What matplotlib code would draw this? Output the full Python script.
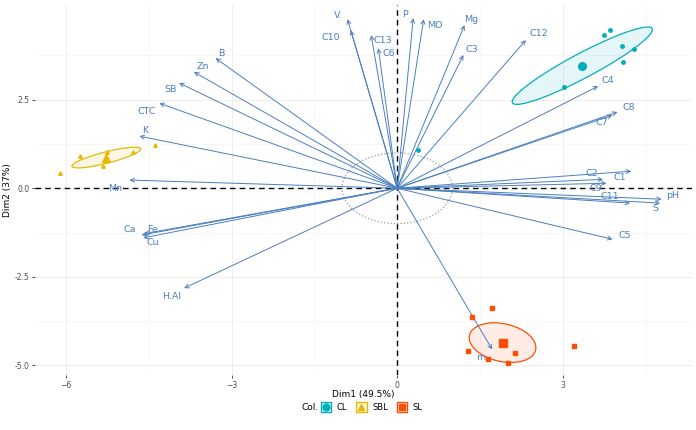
import numpy as np
import matplotlib
matplotlib.use("Agg")
import matplotlib.pyplot as plt
from matplotlib.patches import Ellipse, Rectangle, Circle
from matplotlib.lines import Line2D
from matplotlib.legend_handler import HandlerBase

# Variable arrows (PCA loadings, scaled)
var_names = ["V.", "C10", "C13", "C6", "P", "MO", "Mg", "C3", "C12",
             "B", "Zn", "SB", "CTC", "K", "Mn", "Ca", "Fe", "Cu", "H.Al",
             "C4", "C8", "C7", "C2", "C1", "C9", "C11", "S", "pH", "C5", "m"]
var_x = [-0.90, -0.84, -0.47, -0.34, 0.29, 0.48, 1.22, 1.20, 2.33,
         -3.29, -3.68, -3.95, -4.31, -4.67, -4.85, -4.63, -4.58, -4.60, -3.86,
         3.64, 3.99, 3.90, 3.73, 4.24, 3.79, 4.22, 4.76, 4.79, 3.90, 1.72]
var_y = [4.77, 4.46, 4.32, 3.95, 4.80, 4.77, 4.60, 3.76, 4.18,
         3.67, 3.28, 2.97, 2.40, 1.47, 0.23, -1.32, -1.28, -1.40, -2.82,
         2.88, 2.15, 2.06, 0.25, 0.48, 0.14, -0.42, -0.42, -0.31, -1.44, -4.55]
# label offsets from arrow tip (pixels)
lab_off = [(-9, 4), (-20, -7), (12, -5), (10, -5), (-8, 4), (11, -6), (7, 6), (8, 5), (13, 7),
           (6, 5), (9, 5), (-9, -7), (-12, -8), (6, 6), (-14, -8), (-12, 6), (8, 4), (10, -5), (-12, -8),
           (10, 6), (11, 5), (-11, -7), (-11, 6), (-11, -6), (-11, -5), (-20, 7), (-5, -5), (11, 4), (12, 4), (-11, -8)]

# Individuals by group
groups = ["CL", "SBL", "SL"]
cl_x = [3.75, 3.86, 4.08, 4.29, 4.09, 3.02, 0.38]
cl_y = [4.32, 4.46, 4.01, 3.93, 3.56, 2.85, 1.07]
sbl_x = [-6.10, -5.75, -5.26, -5.33, -4.38, -4.79]
sbl_y = [0.42, 0.90, 1.02, 0.62, 1.21, 1.02]
sl_x = [1.71, 1.35, 1.29, 1.65, 2.14, 2.01, 3.21]
sl_y = [-3.39, -3.62, -4.60, -4.83, -4.66, -4.94, -4.46]

grp_x = [cl_x, sbl_x, sl_x]
grp_y = [cl_y, sbl_y, sl_y]
grp_col = ["#00AFBB", "#E7B800", "#FC4E07"]
grp_mk = ["o", "^", "s"]

arrow_col = "#4A7FBF"


class BoxMarkerHandler(HandlerBase):
    """ggplot-like key: square box with coloured border and the marker inside."""
    def create_artists(self, legend, orig_handle, xdescent, ydescent, width, height, fontsize, trans):
        col = orig_handle.get_color()
        side = height
        x0 = -xdescent + (width - side) / 2
        y0 = -ydescent
        box = Rectangle((x0, y0), side, side, fc=matplotlib.colors.to_rgba(col, 0.1),
                        ec=col, lw=1.0, transform=trans)
        m = Line2D([x0 + side / 2], [y0 + side / 2], ls="none", marker=orig_handle.get_marker(),
                   ms=orig_handle.get_markersize(), color=col, transform=trans)
        return [box, m]


fig = plt.figure(figsize=(6.96, 4.30), dpi=100)
ax = fig.add_axes([35 / 696, 1 - 375 / 430, (692 - 35) / 696, (375 - 5) / 430])
ax.set_xlim(-6.56, 5.34)
ax.set_ylim(-5.27, 5.17)

ax.set_xticks([-6, -3, 0, 3])
ax.set_yticks([-5.0, -2.5, 0.0, 2.5])
ax.set_yticklabels(["-5.0", "-2.5", "0.0", "2.5"])
ax.set_xticks([-4.5, -1.5, 1.5, 4.5], minor=True)
ax.set_yticks([-3.75, -1.25, 1.25, 3.75], minor=True)
ax.grid(True, which="major", color="#EBEBEB", lw=0.6)
ax.grid(True, which="minor", color="#F2F2F2", lw=0.4)
ax.tick_params(which="major", length=2.5, width=0.6, color="#333333",
               labelsize=5.5, labelcolor="#4D4D4D", pad=1.5)
ax.tick_params(which="minor", length=0)
for s in ax.spines.values():
    s.set_visible(False)
ax.set_axisbelow(True)

ax.axhline(0, color="black", ls=(0, (4, 3)), lw=1.0, zorder=1)
ax.axvline(0, color="black", ls=(0, (4, 3)), lw=1.0, zorder=1)

# unit circle
ax.add_patch(Circle((0, 0), 1.0, fill=False, ec="#999999", ls=":", lw=0.9, zorder=1))

# arrows and labels
for name, x, y, off in zip(var_names, var_x, var_y, lab_off):
    ax.annotate("", xy=(x, y), xytext=(0, 0),
                arrowprops=dict(arrowstyle="->", color=arrow_col, lw=0.7,
                                shrinkA=0, shrinkB=0, mutation_scale=7), zorder=3)
    ax.annotate(name, xy=(x, y), xytext=off, textcoords="offset pixels",
                ha="center", va="center", fontsize=6.8, color=arrow_col, zorder=4)

# groups: points, means, confidence ellipses
r = np.sqrt(-2 * np.log(0.05))
for gx, gy, col, mk in zip(grp_x, grp_y, grp_col, grp_mk):
    gx = np.array(gx)
    gy = np.array(gy)
    ax.plot(gx, gy, ls="none", marker=mk, ms=2.5, color=col, zorder=5)
    mx, my = gx.mean(), gy.mean()
    ax.plot([mx], [my], ls="none", marker=mk, ms=5.5, color=col, zorder=6)
    cov = np.cov(gx, gy) / len(gx)
    vals, vecs = np.linalg.eigh(cov)
    ang = np.degrees(np.arctan2(vecs[1, 1], vecs[0, 1]))
    w, h = 2 * r * np.sqrt(vals[1]), 2 * r * np.sqrt(vals[0])
    ax.add_patch(Ellipse((mx, my), w, h, angle=ang, fc=col, alpha=0.1, ec="none", zorder=2))
    ax.add_patch(Ellipse((mx, my), w, h, angle=ang, fc="none", ec=col, lw=0.9, zorder=2))

ax.set_xlabel("Dim1 (49.5%)", fontsize=6.5, color="black", labelpad=0.5)
ax.set_ylabel("Dim2 (37%)", fontsize=6.5, color="black", labelpad=2)

# legend
handles = [Line2D([], [], ls="none", marker=mk, ms=5, color=col) for col, mk in zip(grp_col, grp_mk)]
leg = fig.legend(handles, groups, loc="center", bbox_to_anchor=(371 / 696, 1 - 407 / 430),
                 ncol=3, frameon=False, fontsize=6, handlelength=1.6, handleheight=1.6,
                 columnspacing=0.9, handletextpad=0.5,
                 handler_map={Line2D: BoxMarkerHandler()})
fig.text(310 / 696, 1 - 407 / 430, "Col.", fontsize=6.5, ha="center", va="center")

fig.savefig("out.png", dpi=100)
